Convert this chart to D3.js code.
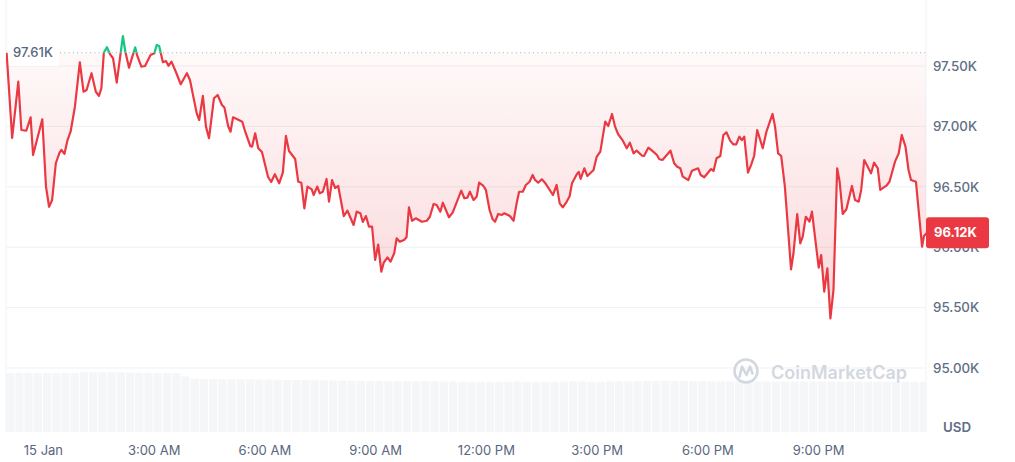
<!DOCTYPE html>
<html><head><meta charset="utf-8">
<script src="https://cdn.jsdelivr.net/npm/d3@7"></script>
<style>html,body{margin:0;padding:0;background:#fff;} svg{display:block;font-family:Inter,"Noto Sans",sans-serif;}</style>
</head><body><svg id="c" width="1015" height="462"></svg>
<script>
// minutes since 00:00, 15 Jan
const times = [-59,-50,-40,-35,-27,-20,-16,-1,5,10,15,21,27,30,35,40,45,52,60,66,71,79,86,91,95,99,104,109,114,120,130,134,140,150,153,160,166,175,181,185,189,195,200,204,209,217,224,234,239,250,254,260,265,270,278,284,291,295,301,305,309,316,324,328,337,340,345,350,356,366,371,377,384,390,395,400,410,415,420,425,430,437,440,446,450,455,461,465,470,475,480,489,495,505,510,516,520,525,530,535,540,545,550,554,560,565,571,575,580,587,591,595,600,606,616,624,629,635,640,646,650,660,666,680,685,690,694,700,705,709,716,720,726,731,735,740,746,750,759,765,770,774,780,785,791,796,800,805,811,816,829,835,840,845,851,856,860,868,871,874,880,885,895,900,906,914,919,925,930,935,942,949,954,960,965,974,977,984,992,998,1002,1007,1020,1026,1031,1036,1040,1049,1055,1065,1069,1075,1086,1090,1095,1101,1106,1111,1117,1122,1127,1132,1136,1140,1146,1151,1156,1161,1170,1176,1186,1190,1195,1200,1206,1216,1220,1226,1231,1235,1240,1246,1250,1261,1265,1270,1275,1280,1285,1291,1295,1300,1306,1315,1320,1326,1330,1335,1346,1351,1357,1361,1371,1376,1385,1391,1396,1402,1407,1411,1419,1429,1432,1437];
const prices = [97610,96904,97370,96970,96964,97075,96763,97059,96501,96335,
96391,96695,96782,96805,96772,96887,96956,97163,97531,97287,
97301,97440,97287,97252,97315,97610,97655,97599,97564,97362,
97748,97618,97486,97655,97591,97494,97500,97591,97605,97674,
97666,97531,97541,97502,97536,97440,97349,97440,97384,97108,
97053,97252,96998,96902,97233,97260,97177,97156,97003,96956,
97075,97059,97039,96970,96838,96832,96943,96819,96788,96581,
96540,96604,96529,96618,96921,96796,96730,96542,96534,96322,
96501,96479,96432,96502,96446,96459,96565,96377,96556,96490,
96507,96258,96302,96184,96294,96281,96209,96258,96170,96171,
95894,96022,95797,95872,95916,95880,95950,96074,96046,96060,
96082,96330,96219,96239,96211,96219,96252,96358,96349,96294,
96368,96248,96286,96468,96405,96410,96459,96391,96418,96534,
96507,96474,96308,96231,96211,96275,96267,96281,96258,96219,
96363,96459,96459,96515,96542,96598,96556,96534,96562,96534,
96432,96515,96363,96330,96374,96420,96529,96606,96623,96566,
96653,96589,96639,96747,96791,97039,97003,97103,96998,96935,
96887,96819,96865,96777,96799,96757,96755,96824,96791,96763,
96728,96722,96799,96695,96666,96653,96584,96556,96633,96653,
96598,96579,96647,96631,96736,96755,96929,96951,96882,96852,
96852,96915,96887,96915,96617,96680,96755,96970,96819,96956,
97103,96998,96777,96755,96501,95817,95950,96275,96032,96087,
96252,96211,96294,95830,95935,95632,95825,95411,95646,96653,
96542,96275,96314,96507,96391,96377,96474,96722,96612,96700,
96653,96474,96509,96542,96708,96777,96929,96832,96639,96556,
96542,96004,96093,96120];
const openPrice = 97610;
const lastPrice = 96120;
// 24h volume (billions USD), one value per 15 minutes from -60
const volumes = [59.0,59.1,59.0,58.9,59.0,59.1,59.0,59.2,
59.6,59.7,59.6,59.7,59.5,59.4,
59.1,59.0,58.9,58.8,58.7,
55.4,
53.2,53.0,52.9,52.8,52.7,52.6,52.5,52.4,52.3,52.2,52.0,51.9,51.8,51.7,51.6,51.5,
51.3,51.2,51.1,51.0,50.9,50.8,50.7,50.7,50.6,50.5,50.5,50.4,50.4,50.3,50.3,
50.3,50.2,50.2,50.3,50.4,50.3,50.2,50.2,50.3,50.4,
50.5,50.4,50.3,50.3,50.4,50.5,50.6,50.8,51.0,51.1,
51.2,51.1,50.9,50.7,50.6,50.5,50.4,50.4,50.5,50.6,
50.5,50.4,50.3,50.3,50.4,50.5,50.6,50.6,50.5,50.4,
50.4,50.3,50.3,50.2,50.2,50.3,50.3,50.2,50.2];
const volStart = -60, volStep = 15;
const yTicks = [95000,95500,96000,96500,97000,97500];
const yTickLabels = ["95.00K","95.50K","96.00K","96.50K","97.00K","97.50K"];
const xTickTimes = [0,180,360,540,720,900,1080,1260];
const xTickLabels = ["15 Jan","3:00 AM","6:00 AM","9:00 AM","12:00 PM","3:00 PM","6:00 PM","9:00 PM"];

const data = times.map((t,i)=>({t, p:prices[i]}));
const svg = d3.select("#c");
const L = 6, R = 926, BOT = 432;
const x = d3.scaleLinear().domain([-60,1437]).range([6,927]);
const y = d3.scaleLinear().domain([95000,97500]).range([368,66]);
const yv = d3.scaleLinear().domain([0,60]).range([BOT,372]);
const yBase = y(openPrice);

const defs = svg.append("defs");
defs.append("clipPath").attr("id","plot").append("rect").attr("x",L).attr("y",0).attr("width",R-L).attr("height",BOT);
defs.append("clipPath").attr("id","below").append("rect").attr("x",L).attr("y",yBase).attr("width",R-L+4).attr("height",BOT-yBase);
defs.append("clipPath").attr("id","above").append("rect").attr("x",L).attr("y",0).attr("width",R-L+4).attr("height",yBase);
const gr = defs.append("linearGradient").attr("id","gr").attr("gradientUnits","userSpaceOnUse")
  .attr("x1",0).attr("x2",0).attr("y1",yBase).attr("y2",y(95400));
gr.append("stop").attr("offset",0).attr("stop-color","#ea3943").attr("stop-opacity",0.03);
gr.append("stop").attr("offset",1).attr("stop-color","#ea3943").attr("stop-opacity",0.2);
const gg = defs.append("linearGradient").attr("id","gg").attr("gradientUnits","userSpaceOnUse")
  .attr("x1",0).attr("x2",0).attr("y1",yBase).attr("y2",y(97800));
gg.append("stop").attr("offset",0).attr("stop-color","#16c784").attr("stop-opacity",0.03);
gg.append("stop").attr("offset",1).attr("stop-color","#16c784").attr("stop-opacity",0.2);

// borders
svg.append("line").attr("x1",L).attr("x2",L).attr("y1",0).attr("y2",BOT).attr("stroke","#eff2f5");
svg.append("line").attr("x1",R).attr("x2",R).attr("y1",0).attr("y2",BOT).attr("stroke","#eff2f5");

// gridlines
svg.append("g").selectAll("line").data(yTicks).join("line")
  .attr("x1",L).attr("x2",R).attr("y1",d=>y(d)).attr("y2",d=>y(d))
  .attr("stroke","#eff1f4").attr("stroke-width",1);

// volume bars
svg.append("g").attr("clip-path","url(#plot)").selectAll("rect").data(volumes).join("rect")
  .attr("x",(d,i)=>x(volStart+i*volStep))
  .attr("width",(d,i)=>x(volStart+(i+1)*volStep)-x(volStart+i*volStep)-1)
  .attr("y",d=>yv(d)).attr("height",d=>BOT-yv(d))
  .attr("fill","#f5f6f8");

// area
const area = d3.area().x(d=>x(d.t)).y0(yBase).y1(d=>y(d.p));
const pg = svg.append("g").attr("clip-path","url(#plot)");
pg.append("g").attr("clip-path","url(#below)").append("path").datum(data).attr("d",area).attr("fill","url(#gr)");
pg.append("g").attr("clip-path","url(#above)").append("path").datum(data).attr("d",area).attr("fill","url(#gg)");

// baseline label bg + dotted line
svg.append("rect").attr("x",L+1).attr("y",42).attr("width",52).attr("height",24).attr("fill","#fff");
svg.append("line").attr("x1",60).attr("x2",R).attr("y1",yBase).attr("y2",yBase)
  .attr("stroke","#a6b0c3").attr("stroke-width",1).attr("stroke-dasharray","1,3.3");
svg.append("text").attr("x",13).attr("y",yBase).attr("dy","0.35em").text((openPrice/1000).toFixed(2)+"K")
  .attr("font-size",13).attr("font-weight",500).attr("fill","#58667e");

// lines
const line = d3.line().x(d=>x(d.t)).y(d=>y(d.p));
const lg = svg.append("g");
lg.append("g").attr("clip-path","url(#below)").append("path").datum(data).attr("d",line)
  .attr("fill","none").attr("stroke","#ea3943").attr("stroke-width",2.2).attr("stroke-linejoin","round");
lg.append("g").attr("clip-path","url(#above)").append("path").datum(data).attr("d",line)
  .attr("fill","none").attr("stroke","#16c784").attr("stroke-width",2.2).attr("stroke-linejoin","round");

// watermark
const wm = svg.append("g");
wm.append("circle").attr("cx",746).attr("cy",371).attr("r",11.5).attr("fill","none").attr("stroke","#d3d8e0").attr("stroke-width",2.6);
wm.append("path").attr("d","M739.5,377 L742,366.5 L746.5,375 L750,366.5 L752.5,373.5").attr("fill","none")
  .attr("stroke","#d3d8e0").attr("stroke-width",2.6).attr("stroke-linejoin","round").attr("stroke-linecap","round");
wm.append("text").attr("x",771).attr("y",378.5).text("CoinMarketCap").attr("font-size",18).attr("font-weight",600).attr("fill","#d3d8e0");

// y axis
const yAxis = d3.axisRight(y).tickValues(yTicks).tickFormat((d,i)=>yTickLabels[i]).tickSize(0).tickPadding(0);
const ya = svg.append("g").attr("transform",`translate(933,0)`).call(yAxis);
ya.select(".domain").remove();
ya.selectAll("text").attr("font-size",13.3).attr("font-weight",500).attr("fill","#616e85").attr("font-family","Inter,'Noto Sans',sans-serif");
svg.append("text").attr("x",957).attr("y",427).attr("dy","0.35em").attr("text-anchor","middle").text("USD")
  .attr("font-size",13.3).attr("font-weight",600).attr("fill","#616e85");

// x axis
const xAxis = d3.axisBottom(x).tickValues(xTickTimes).tickFormat((d,i)=>xTickLabels[i]).tickSize(0).tickPadding(0);
const xa = svg.append("g").attr("transform",`translate(0,446)`).call(xAxis);
xa.select(".domain").remove();
xa.selectAll("text").attr("font-size",13).attr("font-weight",400).attr("fill","#58667e").attr("font-family","Inter,'Noto Sans',sans-serif");

// current price tag
const ly = y(lastPrice);
svg.append("rect").attr("x",926).attr("y",ly-15.5).attr("width",63).attr("height",31).attr("rx",3).attr("fill","#ea3943");
svg.append("text").attr("x",934).attr("y",ly).attr("dy","0.35em").text((lastPrice/1000).toFixed(2)+"K")
  .attr("font-size",13).attr("font-weight",700).attr("fill","#fff");
</script></body></html>
